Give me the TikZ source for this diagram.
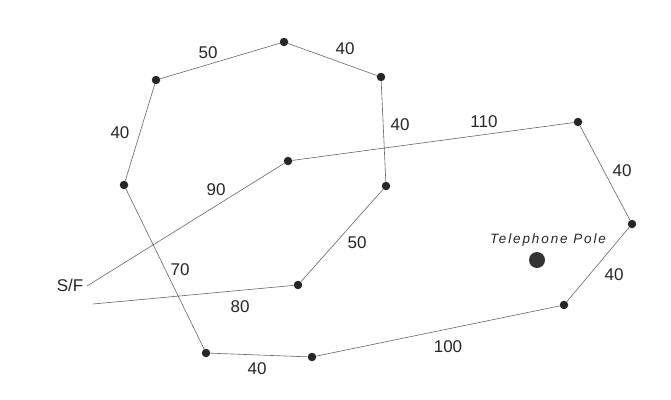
\documentclass[tikz,border=0pt]{standalone}
\usepackage{fontspec}
\setmainfont{Liberation Sans}
\usetikzlibrary{positioning}

\begin{document}
\begin{tikzpicture}[x=1pt,y=-1pt,
  stake/.style={circle,fill=black!85,inner sep=0pt,minimum size=8.5pt},
  fence/.style={black!60,line width=0.6pt},
  dist/.style={font=\fontsize{17}{20}\selectfont,text=black!85}]
  \useasboundingbox (0,0) rectangle (671,399);
  % stakes
  \node[stake] (a) at (156,80) {};
  \node[stake] (b) at (284,42) {};
  \node[stake] (c) at (381,77) {};
  \node[stake] (d) at (386,186) {};
  \node[stake] (e) at (298,285) {};
  \node[stake] (f) at (288,161) {};
  \node[stake] (g) at (578,122) {};
  \node[stake] (h) at (632,224) {};
  \node[stake] (i) at (564,305) {};
  \node[stake] (j) at (312,357) {};
  \node[stake] (k) at (206,353) {};
  \node[stake] (l) at (124,185) {};
  \coordinate (sfa) at (87,286);
  \coordinate (sfb) at (93,304);
  \node[dist] (sf) at (70,285) {S/F};
  % pole
  \node[circle,fill=black!80,inner sep=0pt,minimum size=16pt] (pole) at (537,260) {};
  \node[font=\fontsize{13.5}{16}\selectfont\itshape,text=black!85] (pl) at (548,240)
    {\addfontfeature{LetterSpace=14}Telephone Pole};
  % fence line
  \draw[fence] (sfa) -- (f) -- (g) -- (h) -- (i) -- (j) -- (k) -- (l)
    -- (a) -- (b) -- (c) -- (d) -- (e) -- (sfb);
  % distances
  \node[dist] at (208,53) {50};
  \node[dist] at (345,49) {40};
  \node[dist] at (120,133) {40};
  \node[dist] at (400,125) {40};
  \node[dist] at (484,122) {110};
  \node[dist] at (622,171) {40};
  \node[dist] at (216,190) {90};
  \node[dist] at (357,243) {50};
  \node[dist] at (180,270) {70};
  \node[dist] at (240,307) {80};
  \node[dist] at (257,369) {40};
  \node[dist] at (448,347) {100};
  \node[dist] at (614,275) {40};
\end{tikzpicture}
\end{document}
